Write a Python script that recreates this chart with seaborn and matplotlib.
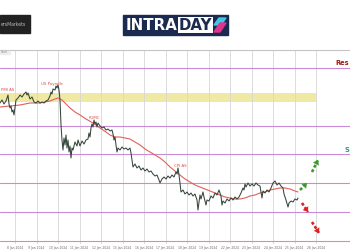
import matplotlib
matplotlib.use("Agg")
import matplotlib.pyplot as plt
from matplotlib.patches import Rectangle, Polygon
import seaborn as sns

# ---- data (bar index, price) ----
price_bars = [0, 4, 8, 12, 16, 18, 20, 22, 24, 26, 28, 32, 36, 40, 44, 48, 52, 54, 56, 60,
              64, 68, 72, 76, 80, 84, 88, 92, 96, 100, 102, 104, 106, 110, 112, 114, 116, 118, 120, 122,
              124, 126, 128, 130, 132, 134, 136, 138, 140, 142, 144, 146, 150, 154, 156, 160, 164, 168, 172, 176,
              178, 180, 182, 184, 186, 188, 190, 192, 194, 196, 200, 204, 208, 212, 216, 220, 224, 226, 228, 230,
              232, 234, 236, 240, 244, 248, 252, 256, 260, 262, 264, 266, 270, 274, 278, 282, 286, 290, 294, 298,
              302, 306, 310, 314, 318, 320, 324, 328, 332, 336, 340, 344, 348, 352, 354, 356, 358, 360, 362, 366,
              370, 374, 378, 382, 386, 390, 394, 396, 398, 400, 402, 406, 408, 412, 414, 418, 422, 426, 430, 434,
              438, 442, 444, 446, 450, 454, 458, 462, 466, 470, 474, 478, 482, 486, 488, 490, 492, 496, 500, 504,
              508, 512, 516, 520, 522, 524, 526, 530, 534, 538, 542, 546, 550, 554, 558, 562, 566, 568, 572, 576,
              578, 582, 586, 590, 594, 596]
price_vals = [1.1947, 1.1950, 1.1946, 1.1949, 1.1955, 1.1946, 1.1942, 1.1944, 1.1938, 1.1940, 1.1935, 1.1950, 1.1952, 1.1955, 1.1953, 1.1956, 1.1958, 1.1955, 1.1957, 1.1951,
              1.1953, 1.1948, 1.1947, 1.1949, 1.1947, 1.1948, 1.1947, 1.1949, 1.1950, 1.1954, 1.1958, 1.1956, 1.1961, 1.1960, 1.1964, 1.1962, 1.1965, 1.1960, 1.1950, 1.1925,
              1.1910, 1.1900, 1.1912, 1.1905, 1.1915, 1.1902, 1.1910, 1.1898, 1.1904, 1.1892, 1.1902, 1.1900, 1.1908, 1.1904, 1.1910, 1.1904, 1.1909, 1.1906, 1.1910, 1.1911,
              1.1917, 1.1913, 1.1922, 1.1926, 1.1923, 1.1930, 1.1926, 1.1928, 1.1923, 1.1927, 1.1924, 1.1922, 1.1923, 1.1920, 1.1921, 1.1919, 1.1920, 1.1916, 1.1910, 1.1913,
              1.1905, 1.1898, 1.1902, 1.1900, 1.1903, 1.1901, 1.1902, 1.1900, 1.1902, 1.1897, 1.1890, 1.1883, 1.1886, 1.1882, 1.1884, 1.1880, 1.1882, 1.1879, 1.1881, 1.1878,
              1.1879, 1.1876, 1.1874, 1.1875, 1.1870, 1.1867, 1.1871, 1.1873, 1.1871, 1.1874, 1.1872, 1.1875, 1.1873, 1.1878, 1.1876, 1.1882, 1.1875, 1.1867, 1.1858, 1.1860,
              1.1856, 1.1858, 1.1855, 1.1857, 1.1854, 1.1856, 1.1850, 1.1840, 1.1848, 1.1855, 1.1851, 1.1858, 1.1853, 1.1845, 1.1850, 1.1849, 1.1854, 1.1852, 1.1857, 1.1855,
              1.1860, 1.1854, 1.1845, 1.1849, 1.1847, 1.1851, 1.1849, 1.1852, 1.1850, 1.1853, 1.1851, 1.1853, 1.1857, 1.1862, 1.1860, 1.1866, 1.1863, 1.1867, 1.1864, 1.1866,
              1.1864, 1.1867, 1.1865, 1.1864, 1.1858, 1.1852, 1.1859, 1.1857, 1.1860, 1.1858, 1.1862, 1.1867, 1.1869, 1.1865, 1.1867, 1.1864, 1.1862, 1.1856, 1.1850, 1.1843,
              1.1847, 1.1849, 1.1848, 1.1851, 1.1850, 1.1852]

ma_bars = [0, 20, 40, 60, 80, 100, 110, 116, 124, 132, 140, 150, 160, 172, 186, 200, 212, 220, 230, 240,
           250, 260, 270, 280, 290, 300, 310, 320, 330, 340, 350, 360, 370, 380, 390, 400, 410, 420, 430, 440,
           450, 460, 470, 480, 490, 500, 510, 520, 530, 540, 550, 560, 570, 580, 590, 596]
ma_vals = [1.1943, 1.1944, 1.1945, 1.1947, 1.1947, 1.1949, 1.1951, 1.1952, 1.1950, 1.1946, 1.1942, 1.1938, 1.1935, 1.1931, 1.1927, 1.1922, 1.1918, 1.1915, 1.1913, 1.1913,
           1.1912, 1.1911, 1.1908, 1.1905, 1.1901, 1.1898, 1.1895, 1.1892, 1.1888, 1.1883, 1.1879, 1.1875, 1.1871, 1.1868, 1.1865, 1.1863, 1.1861, 1.1859, 1.1857, 1.1855,
           1.1853, 1.1852, 1.1851, 1.1851, 1.1852, 1.1854, 1.1855, 1.1857, 1.1858, 1.1860, 1.1861, 1.1862, 1.1862, 1.1861, 1.1859, 1.1858]

levels = [1.1982, 1.1924, 1.1896, 1.1867, 1.1838, 1.1809]
band_low, band_high = 1.1948, 1.1957
band_end = 632

grid_bars = [30, 73, 116, 159, 202, 245, 288, 331, 374, 417, 460, 503, 546, 589, 632]
tick_labels = ["8 Jan 2024", "9 Jan 2024", "10 Jan 2024", "11 Jan 2024", "12 Jan 2024",
               "15 Jan 2024", "16 Jan 2024", "17 Jan 2024", "18 Jan 2024", "19 Jan 2024",
               "22 Jan 2024", "23 Jan 2024", "24 Jan 2024", "25 Jan 2024", "26 Jan 2024"]

events = ["PMI AS", "US Payrolls", "FOMC", "CPI AS"]
event_bars = [28, 104, 188, 360]
event_prices = [1.1960, 1.1966, 1.1932, 1.1884]

up_arrows = [((600, 1.1860), (614, 1.1867)), ((624, 1.1878), (636, 1.1890))]
down_arrows = [((604, 1.1847), (616, 1.1838)), ((624, 1.1828), (638, 1.1817))]

# ---- figure ----
sns.set_theme(style="white")
plt.rcParams['font.family'] = ['DejaVu Sans']
fig = plt.figure(figsize=(3.5, 2.5), dpi=100)
fig.patch.set_facecolor("white")
ax = fig.add_axes([0, 6 / 250, 1, 194 / 250])
ax.set_facecolor("white")

ax.fill_between([0, band_end], band_low, band_high, color="#efe9a4", lw=0, zorder=0.5)
for lv in levels:
    ax.axhline(lv, color="#c98ad8", lw=0.8, zorder=1)

sns.lineplot(x=ma_bars, y=ma_vals, ax=ax, color="#e0605a", lw=0.8, zorder=3, sort=False)
sns.lineplot(x=price_bars, y=price_vals, ax=ax, color="#34463a", lw=0.75, zorder=4, sort=False)

for name, xb, yp in zip(events, event_bars, event_prices):
    ha = "right" if xb < 40 else "center"
    ax.text(xb, yp, name, color="#e04848", fontsize=2.8, ha=ha, va="center", zorder=5)


def dashed_arrow(s, e, color):
    sns.lineplot(x=[s[0], e[0]], y=[s[1], e[1]], ax=ax, color=color, lw=1.9,
                 dashes=False, linestyle=(0, (1.1, 0.8)), zorder=6, sort=False)
    ax.annotate("", xy=e, xytext=s,
                arrowprops=dict(arrowstyle="-|>,head_length=0.55,head_width=0.4", color=color,
                                lw=0.01, mutation_scale=6, shrinkA=0, shrinkB=0), zorder=6)


for (s, e) in up_arrows:
    dashed_arrow(s, e, "#3c9a2a")
for (s, e) in down_arrows:
    dashed_arrow(s, e, "#e02020")

ax.text(699, 1.1987, "Res", color="#9b1c1c", fontsize=4.8, fontweight="bold",
        ha="right", va="center")
ax.text(699, 1.1900, "S", color="#2a9d7a", fontsize=4.8, fontweight="bold",
        ha="right", va="center")

ax.set_xlim(0, 700)
ax.set_ylim(1.1806, 1.2000)
ax.set_xticks(grid_bars)
ax.set_xticklabels(tick_labels, fontsize=2.2, color="#666666")
ax.set_yticks([])
ax.tick_params(axis="x", length=0, pad=1.5)
ax.grid(axis="x", color="#d6d6d6", lw=0.6)
ax.set_axisbelow(True)
ax.set_xlabel("")
ax.set_ylabel("")
for side in ["left", "right", "bottom"]:
    ax.spines[side].set_visible(False)
ax.spines["top"].set_color("#c4c4c4")
ax.spines["top"].set_linewidth(0.8)

# ---- header logos (pixel coordinates overlay) ----
ov = fig.add_axes([0, 0, 1, 1], zorder=10)
ov.set_xlim(0, 350)
ov.set_ylim(250, 0)
ov.axis("off")
ov.patch.set_alpha(0)

ov.add_patch(Rectangle((0, 15), 30, 18, color="#222222"))
ov.text(0.5, 24.2, "ersMarkets", color="#bbbbbb", fontsize=3.3, ha="left", va="center")

ov.add_patch(Rectangle((123, 15), 105, 19.5, color="#1b2a4e"))
ov.text(125.5, 25, "INTRA", color="white", fontsize=10.8, fontweight="bold", ha="left", va="center")
ov.add_patch(Rectangle((177.5, 17), 35.5, 15.5, facecolor="white", edgecolor="white", lw=0))
ov.text(195.2, 25, "DAY", color="#1b2a4e", fontsize=10.8, fontweight="bold", ha="center", va="center")
ov.add_patch(Polygon([(219, 18), (226, 18), (221, 25), (214, 25)], closed=True, color="#3fc8e4"))
ov.add_patch(Polygon([(220, 23), (226, 23), (220, 32), (214, 32)], closed=True, color="#e0328e"))

ov.add_patch(Rectangle((0, 50.5), 10, 3, color="#eeeeee"))
ov.text(0.5, 52, "Chart", color="#888888", fontsize=1.8, ha="left", va="center")

fig.savefig("out.png", dpi=100)
